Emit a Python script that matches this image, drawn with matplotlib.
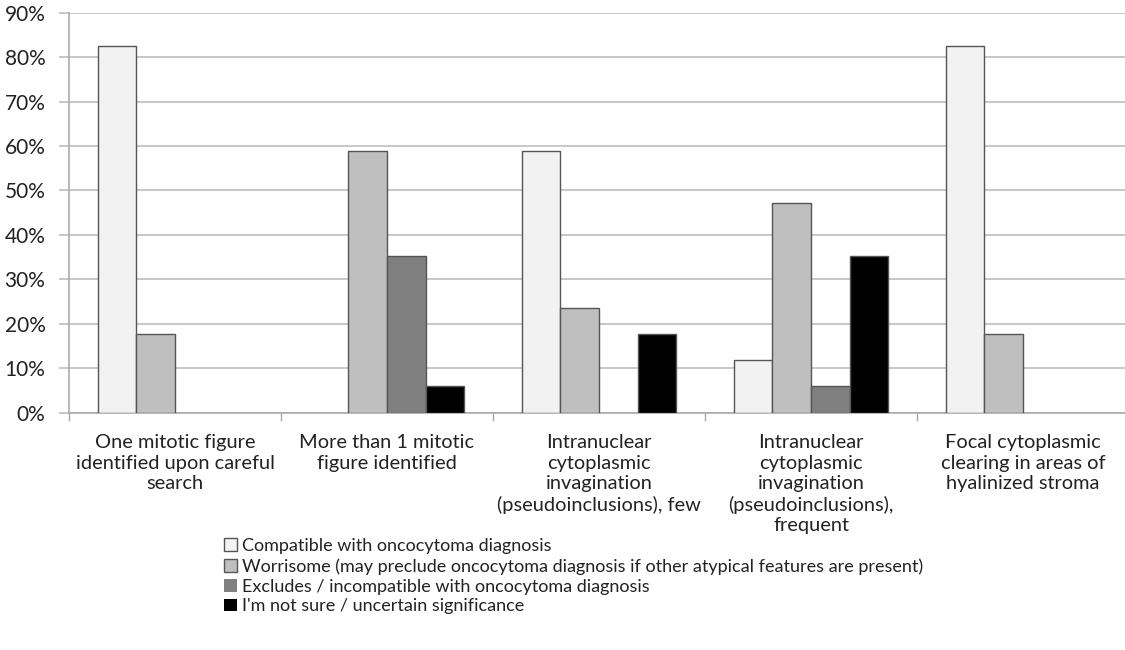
import matplotlib
matplotlib.use("Agg")
import matplotlib.pyplot as plt
import numpy as np

categories = [
    "One mitotic figure\nidentified upon careful\nsearch",
    "More than 1 mitotic\nfigure identified",
    "Intranuclear\ncytoplasmic\ninvagination\n(pseudoinclusions), few",
    "Intranuclear\ncytoplasmic\ninvagination\n(pseudoinclusions),\nfrequent",
    "Focal cytoplasmic\nclearing in areas of\nhyalinized stroma",
]
series_names = [
    "Compatible with oncocytoma diagnosis",
    "Worrisome (may preclude oncocytoma diagnosis if other atypical features are present)",
    "Excludes / incompatible with oncocytoma diagnosis",
    "I'm not sure / uncertain significance",
]
compatible = [82.4, 0.0, 58.8, 11.8, 82.4]
worrisome = [17.6, 58.8, 23.5, 47.1, 17.6]
excludes = [0.0, 35.3, 0.0, 5.9, 0.0]
not_sure = [0.0, 5.9, 17.6, 35.3, 0.0]
yticks = [0, 10, 20, 30, 40, 50, 60, 70, 80, 90]

colors = ["#f2f2f2", "#bfbfbf", "#808080", "#000000"]
FONT = ["Lato", "DejaVu Sans"]
plt.rcParams["font.family"] = FONT

W, H = 1125, 650
fig = plt.figure(figsize=(W / 100, H / 100), dpi=100)
# plot area: left at x=69 px, spans 1060 px (runs slightly past the right edge)
ax = fig.add_axes([69 / W, 1 - 412.7 / H, 1060 / W, 400 / H])

x = np.arange(len(categories))
bw = 0.1825
all_series = [compatible, worrisome, excludes, not_sure]
for i, (vals, c, name) in enumerate(zip(all_series, colors, series_names)):
    offs = (i - 1.5) * bw
    lws = [1.0 if v > 0 else 0.0 for v in vals]
    ax.bar(x + offs, vals, width=bw, color=c, edgecolor="#555555",
           linewidth=lws, label=name, zorder=3)

ax.set_xlim(-0.5, len(categories) - 0.5)
ax.set_ylim(0, 90)
ax.set_yticks(yticks)
ax.set_yticklabels([f"{v}%" for v in yticks], fontsize=15, color="#222222")
ax.yaxis.grid(True, color="#bdbdbd", linewidth=1.2, zorder=0)
ax.set_axisbelow(True)
ax.tick_params(axis="y", length=7, color="#bdbdbd", width=1.2, pad=10)

ax.set_xticks(np.arange(-0.5, len(categories) + 0.5, 1))
ax.set_xticklabels([])
ax.tick_params(axis="x", length=6, color="#aaaaaa", width=1.0, direction="out")
for xi, lab in zip(x, categories):
    ax.text(xi, -4.9, lab, ha="center", va="top", fontsize=14.4,
            color="#222222", linespacing=1.24)

for s in ["top", "right"]:
    ax.spines[s].set_visible(False)
ax.spines["left"].set_color("#aaaaaa")
ax.spines["bottom"].set_color("#aaaaaa")
ax.spines["left"].set_linewidth(1.2)
ax.spines["bottom"].set_linewidth(1.2)

handles, labels = ax.get_legend_handles_labels()
fig.legend(handles, labels, loc="upper left",
           bbox_to_anchor=(224 / W, 1 - 538 / H), frameon=False,
           fontsize=13, handlelength=0.7, handleheight=0.7,
           handletextpad=0.3, labelspacing=0.22, borderaxespad=0,
           borderpad=0, labelcolor="#222222")

fig.savefig("out.png", dpi=100, facecolor="white")
